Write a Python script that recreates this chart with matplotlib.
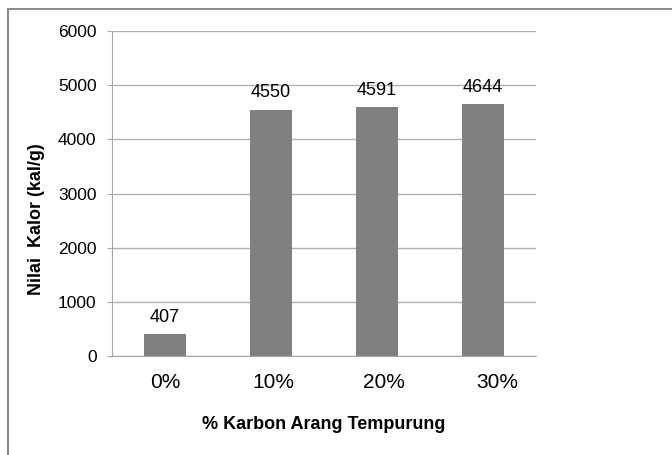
import matplotlib
matplotlib.use("Agg")
import matplotlib.pyplot as plt
from matplotlib.patches import Rectangle

categories = ["0%", "10%", "20%", "30%"]
values = [407, 4550, 4591, 4644]
yticks = [0, 1000, 2000, 3000, 4000, 5000, 6000]
# horizontal nudge of each category label, in points
label_shift = [0, 1.5, 5, 10]

plt.rcParams["font.family"] = ["Liberation Sans", "DejaVu Sans"]

fig = plt.figure(figsize=(6.72, 4.55), dpi=100)
fig.patch.set_facecolor("white")

# outer chart frame (runs past the right and bottom edges)
fig.patches.append(Rectangle((8 / 672, -10 / 455), 700 / 672, (455 - 9 + 10) / 455,
                             transform=fig.transFigure, fill=False,
                             edgecolor="#8c8c8c", linewidth=1.5))

ax = fig.add_axes([112 / 672, (455 - 356) / 455, 424 / 672, 325 / 455])
x = list(range(len(categories)))
ax.bar(x, values, width=0.4, color="#808080", zorder=3)

ax.set_xlim(-0.5, 3.5)
ax.set_ylim(0, 6000)
ax.set_yticks(yticks)
ax.set_yticklabels([str(v) for v in yticks], fontsize=12.5, color="black")
ax.set_xticks(x)
ax.set_xticklabels([])

for xi, cat, dx in zip(x, categories, label_shift):
    ax.annotate(cat, (xi, 0), xycoords=("data", "axes fraction"),
                xytext=(dx, -12), textcoords="offset points",
                ha="center", va="top", fontsize=15, annotation_clip=False)

ax.grid(axis="y", color="#b0b0b0", linewidth=1, zorder=0)
for side in ["top", "right"]:
    ax.spines[side].set_visible(False)
ax.spines["left"].set_color("#a6a6a6")
ax.spines["bottom"].set_color("#a6a6a6")
ax.tick_params(axis="y", length=3.6, color="#a6a6a6", pad=7.5)
ax.tick_params(axis="x", length=0)

for xi, v in zip(x, values):
    ax.annotate(str(v), (xi, v), xytext=(0, 6), textcoords="offset points",
                ha="center", va="bottom", fontsize=13)

ax.set_ylabel("Nilai  Kalor (kal/g)", fontsize=13, fontweight="bold")
ax.yaxis.set_label_coords(-0.158, 0.42)
ax.set_xlabel("% Karbon Arang Tempurung", fontsize=13, fontweight="bold")
ax.xaxis.set_label_coords(0.5, -0.185)

fig.savefig("out.png", dpi=100)
